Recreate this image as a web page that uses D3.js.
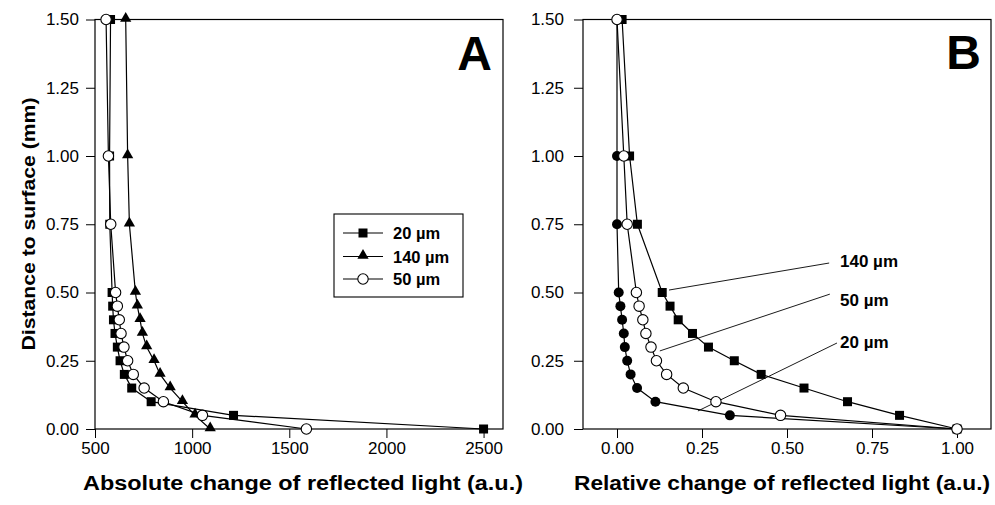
<!DOCTYPE html>
<html>
<head>
<meta charset="utf-8">
<script src="https://cdn.jsdelivr.net/npm/d3@7"></script>
<style>
  body { margin: 0; background: #fff; }
  svg { font-family: "Liberation Sans", Arial, sans-serif; }
</style>
</head>
<body>
<div id="chart"></div>
<script>
// depths (mm), shared by every series
var depth = [1.5, 1.0, 0.75, 0.5, 0.45, 0.4, 0.35, 0.3, 0.25, 0.2, 0.15, 0.1, 0.05, 0.0];

// panel A: absolute change
var absLabels = ["20 µm", "140 µm", "50 µm"];
var abs20  = [580, 575, 576, 588, 591, 595, 603, 615, 629, 651, 689, 789, 1213, 2500];
var abs140 = [658, 668, 677, 708, 718, 732, 744, 766, 804, 835, 887, 950, 1015, 1093];
var abs50  = [557, 569, 581, 606, 615, 625, 634, 649, 668, 697, 753, 852, 1053, 1588];

// panel B: relative change
var rel140 = [0.015, 0.037, 0.06, 0.133, 0.156, 0.18, 0.222, 0.269, 0.345, 0.424, 0.55, 0.678, 0.831, 1.0];
var rel50  = [0.0, 0.02, 0.03, 0.057, 0.065, 0.076, 0.085, 0.10, 0.116, 0.146, 0.195, 0.291, 0.481, 1.0];
var rel20  = [0.0, 0.0, 0.0, 0.005, 0.01, 0.015, 0.02, 0.023, 0.03, 0.04, 0.059, 0.113, 0.332, 1.0];

var yTicks = [0, 0.25, 0.5, 0.75, 1.0, 1.25, 1.5];
var absTicks = [500, 1000, 1500, 2000, 2500];
var relTicks = [0, 0.25, 0.5, 0.75, 1.0];

// callout labels in panel B: [label, x0, y0, x1, y1, textX, textY]
var callouts = [
  ["140 µm", 0.153, 0.509, 0.624, 0.608, 0.656, 0.593],
  ["50 µm", 0.126, 0.286, 0.626, 0.494, 0.656, 0.450],
  ["20 µm", 0.238, 0.066, 0.647, 0.315, 0.656, 0.297]
];

var svg = d3.select("#chart").append("svg")
            .attr("width", 995)
            .attr("height", 505);

var top_y = 19.5, bot_y = 429;

var y = d3.scaleLinear().domain([0, 1.5]).range([bot_y, top_y]);
var xA = d3.scaleLinear().domain([500, 2600]).range([95, 503]);
var xB = d3.scaleLinear().domain([-0.1, 1.1]).range([583, 991]);

function drawFrame(x, xt, xfmt, ypad) {
    var x0 = x.range()[0], x1 = x.range()[1];
    svg.append("rect")
        .attr("x", x0).attr("y", top_y)
        .attr("width", x1 - x0).attr("height", bot_y - top_y)
        .attr("fill", "none").attr("stroke", "#000").attr("stroke-width", 1.2);

    var ax = svg.append("g")
        .attr("transform", "translate(0," + bot_y + ")")
        .call(d3.axisBottom(x).tickValues(xt).tickFormat(xfmt).tickSize(9).tickPadding(4));
    var ay = svg.append("g")
        .attr("transform", "translate(" + x0 + ",0)")
        .call(d3.axisLeft(y).tickValues(yTicks).tickFormat(d3.format(".2f")).tickSize(9).tickPadding(ypad));
    [ax, ay].forEach(function(a) {
        a.select(".domain").remove();
        a.selectAll("line").attr("stroke", "#000").attr("stroke-width", 1);
        a.selectAll("text").attr("font-size", 17).attr("fill", "#000")
            .attr("font-family", "'Liberation Sans', Arial, sans-serif");
    });
}

function drawMarker(g, shape, cx, cy) {
    if (shape == "square") {
        g.append("rect").attr("x", cx - 4.5).attr("y", cy - 4.5)
            .attr("width", 9).attr("height", 9).attr("fill", "#000");
    } else if (shape == "triangle") {
        g.append("path")
            .attr("d", d3.symbol().type(d3.symbolTriangle).size(55)())
            .attr("transform", "translate(" + cx + "," + (cy - 1) + ")")
            .attr("fill", "#000");
    } else if (shape == "open") {
        g.append("circle").attr("cx", cx).attr("cy", cy).attr("r", 5.2)
            .attr("fill", "#fff").attr("stroke", "#000").attr("stroke-width", 1.1);
    } else {
        g.append("circle").attr("cx", cx).attr("cy", cy).attr("r", 5)
            .attr("fill", "#000");
    }
}

function drawSeries(x, vals, shape) {
    var g = svg.append("g");
    var line = d3.line().x(function(d, i) { return x(d); }).y(function(d, i) { return y(depth[i]); });
    g.append("path").datum(vals)
        .attr("d", line)
        .attr("fill", "none").attr("stroke", "#000").attr("stroke-width", 1.2);
    vals.forEach(function(v, i) {
        drawMarker(g, shape, x(v), y(depth[i]));
    });
}

// ---- panel A
drawFrame(xA, absTicks, d3.format("d"), 7);
drawSeries(xA, abs20, "square");
drawSeries(xA, abs140, "triangle");
drawSeries(xA, abs50, "open");

// legend
var leg = svg.append("g");
leg.append("rect").attr("x", 334).attr("y", 214).attr("width", 129).attr("height", 83)
    .attr("fill", "#fff").attr("stroke", "#000").attr("stroke-width", 1.1);
var legShapes = ["square", "triangle", "open"];
var legY = [233, 256.5, 279];
for (var i = 0; i < 3; i++) {
    leg.append("line").attr("x1", 343).attr("x2", 383)
        .attr("y1", legY[i]).attr("y2", legY[i])
        .attr("stroke", "#000").attr("stroke-width", 1.2);
    drawMarker(leg, legShapes[i], 363, legY[i]);
    leg.append("text").text(absLabels[i])
        .attr("x", 393).attr("y", legY[i] + 6)
        .attr("font-size", 16.5).attr("font-weight", "bold");
}

svg.append("text").text("A")
    .attr("x", 492).attr("y", 70)
    .attr("text-anchor", "end")
    .attr("font-size", 48).attr("font-weight", "bold");

// ---- panel B
drawFrame(xB, relTicks, d3.format(".2f"), 10);
callouts.forEach(function(c) {
    svg.append("line")
        .attr("x1", xB(c[1])).attr("y1", y(c[2]))
        .attr("x2", xB(c[3])).attr("y2", y(c[4]))
        .attr("stroke", "#000").attr("stroke-width", 0.9);
    svg.append("text").text(c[0])
        .attr("x", xB(c[5])).attr("y", y(c[6]))
        .attr("font-size", 17).attr("font-weight", "bold");
});
drawSeries(xB, rel140, "square");
drawSeries(xB, rel20, "filled");
drawSeries(xB, rel50, "open");

svg.append("text").text("B")
    .attr("x", 981).attr("y", 69)
    .attr("text-anchor", "end")
    .attr("font-size", 48).attr("font-weight", "bold");

// axis titles
svg.append("text").text("Absolute change of reflected light (a.u.)")
    .attr("x", 303).attr("y", 490)
    .attr("text-anchor", "middle")
    .attr("font-size", 20).attr("font-weight", "bold")
    .attr("textLength", 440).attr("lengthAdjust", "spacingAndGlyphs");

svg.append("text").text("Relative change of reflected light (a.u.)")
    .attr("x", 782).attr("y", 490)
    .attr("text-anchor", "middle")
    .attr("font-size", 20).attr("font-weight", "bold")
    .attr("textLength", 416).attr("lengthAdjust", "spacingAndGlyphs");

svg.append("text").text("Distance to surface (mm)")
    .attr("transform", "translate(35,224) rotate(-90)")
    .attr("text-anchor", "middle")
    .attr("font-size", 19).attr("font-weight", "bold")
    .attr("textLength", 253).attr("lengthAdjust", "spacingAndGlyphs");
</script>
</body>
</html>
